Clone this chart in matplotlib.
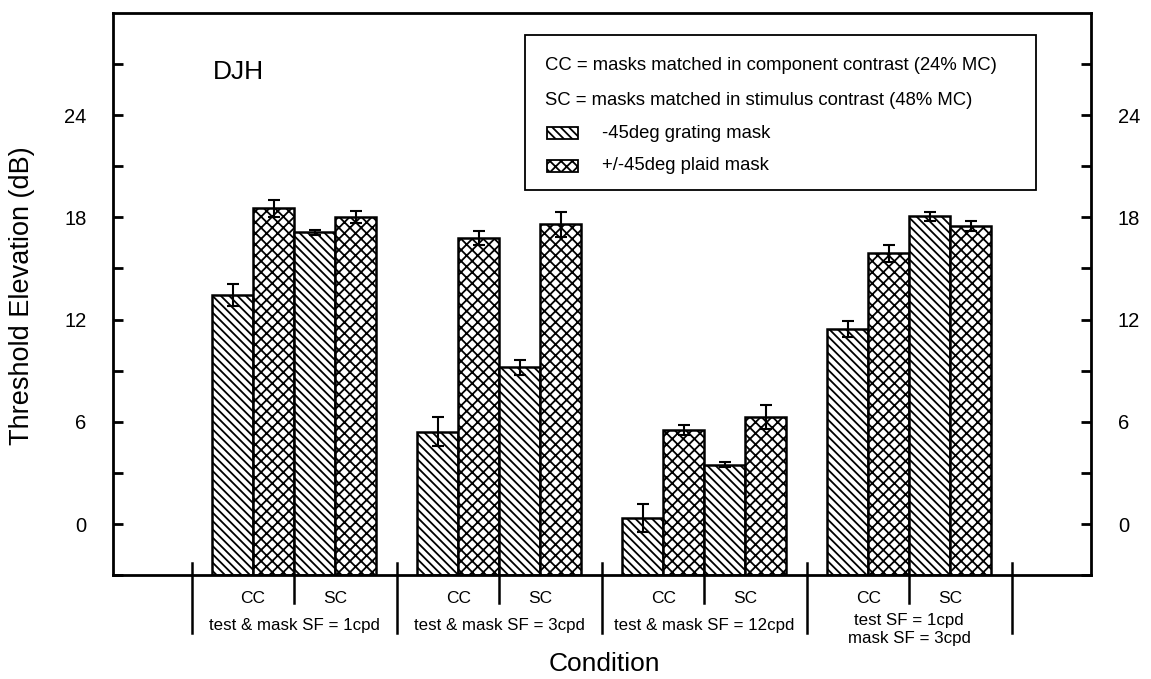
import numpy as np
import matplotlib
matplotlib.use("Agg")
import matplotlib.pyplot as plt
from matplotlib.patches import Rectangle
import matplotlib.transforms as mtransforms

plt.rcParams['font.family'] = ['Liberation Sans', 'DejaVu Sans']
plt.rcParams['hatch.linewidth'] = 1.3

# threshold elevation (dB) per condition, mask type and contrast matching
groups = ["test & mask SF = 1cpd", "test & mask SF = 3cpd",
          "test & mask SF = 12cpd", "test SF = 1cpd\nmask SF = 3cpd"]
grating_cc = [13.45, 5.42, 0.35, 11.42]
plaid_cc = [18.52, 16.77, 5.53, 15.90]
grating_sc = [17.12, 9.20, 3.49, 18.05]
plaid_sc = [18.00, 17.59, 6.29, 17.47]

grating_cc_err = [0.64, 0.87, 0.80, 0.47]
plaid_cc_err = [0.50, 0.42, 0.30, 0.50]
grating_sc_err = [0.15, 0.45, 0.15, 0.25]
plaid_sc_err = [0.35, 0.75, 0.72, 0.30]

ymin, ymax = -3, 30
bar_w = 0.2

fig = plt.figure(figsize=(11.51, 6.79), dpi=100)
ax = fig.add_axes([0.0982, 0.153, 0.850, 0.828])

x = np.arange(len(groups))
series = [
    (grating_cc, grating_cc_err, -0.3, '\\\\\\\\'),
    (plaid_cc, plaid_cc_err, -0.1, 'xxx'),
    (grating_sc, grating_sc_err, 0.1, '\\\\\\\\'),
    (plaid_sc, plaid_sc_err, 0.3, 'xxx'),
]
for vals, errs, off, hatch in series:
    vals = np.array(vals)
    ax.bar(x + off, vals - ymin, bottom=ymin, width=bar_w, color='white',
           edgecolor='black', linewidth=1.8, hatch=hatch, zorder=2)
    ax.errorbar(x + off, vals, yerr=errs, fmt='none', ecolor='black',
                elinewidth=1.5, capsize=4, capthick=1.5, zorder=3)

ax.set_xlim(-0.883, 3.888)
ax.set_ylim(ymin, ymax)
ax.set_xticks([])
ax.set_yticks(np.arange(-3, 30, 3))
ax.set_yticklabels([str(v) if v % 6 == 0 and 0 <= v <= 24 else '' for v in range(-3, 30, 3)])
ax.tick_params(axis='y', direction='in', length=7, width=2, right=True,
               labelright=True, labelsize=14.5, pad=19)
for sp in ax.spines.values():
    sp.set_linewidth(2)

# condition dividers and labels under the axis
trans = mtransforms.blended_transform_factory(ax.transData, ax.transAxes)
for b in np.arange(len(groups) + 1) - 0.5:
    ax.plot([b, b], [0.021, -0.103], color='black', lw=1.8,
            transform=trans, clip_on=False)
for i, g in enumerate(groups):
    ax.plot([i, i], [0, -0.05], color='black', lw=1.8,
            transform=trans, clip_on=False)
    ax.text(i - 0.2, -0.041, "CC", transform=trans, ha='center', va='center', fontsize=12.5)
    ax.text(i + 0.2, -0.041, "SC", transform=trans, ha='center', va='center', fontsize=12.5)
    ypos = -0.097 if '\n' in g else -0.089
    ax.text(i, ypos, g, transform=trans, ha='center', va='center',
            fontsize=12.2, linespacing=1.25)

fig.text(0.525, 0.022, "Condition", ha='center', va='center', fontsize=19)
fig.text(0.019, 0.564, "Threshold Elevation (dB)", rotation=90,
         ha='center', va='center', fontsize=19.5)

ax.text(0.102, 0.895, "DJH", transform=ax.transAxes, ha='left', va='center', fontsize=19)

# key box
ax.add_patch(Rectangle((0.421, 0.685), 0.522, 0.276, transform=ax.transAxes,
                       facecolor='white', edgecolor='black', lw=1.3, zorder=4))
ax.text(0.442, 0.907, "CC = masks matched in component contrast (24% MC)",
        transform=ax.transAxes, va='center', fontsize=13.3, zorder=5)
ax.text(0.442, 0.845, "SC = masks matched in stimulus contrast (48% MC)",
        transform=ax.transAxes, va='center', fontsize=13.3, zorder=5)
for yk, hatch, label in [(0.786, '\\\\\\\\', "-45deg grating mask"),
                         (0.728, 'xxx', "+/-45deg plaid mask")]:
    ax.add_patch(Rectangle((0.444, yk - 0.011), 0.031, 0.022, transform=ax.transAxes,
                           facecolor='white', edgecolor='black', lw=1.3,
                           hatch=hatch, zorder=5))
    ax.text(0.5, yk, label, transform=ax.transAxes, va='center', fontsize=13.3, zorder=5)

fig.savefig("out.png", dpi=100)
